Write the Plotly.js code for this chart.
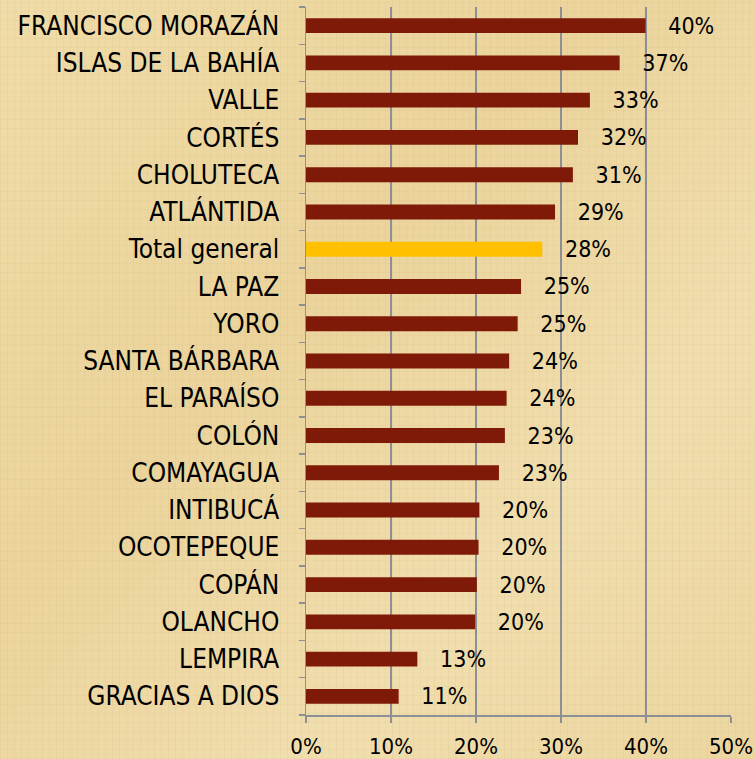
<!DOCTYPE html>
<html>
<head>
<meta charset="utf-8">
<script src="https://cdn.plot.ly/plotly-3.0.1.min.js"></script>
<style>
  html, body { margin: 0; padding: 0; width: 755px; height: 759px; overflow: hidden; }
  body {
    background-color: #EDD9A5;
    background-image:
      repeating-linear-gradient(90deg, rgba(190,160,100,0.10) 0px, rgba(190,160,100,0.10) 1px, rgba(0,0,0,0) 1px, rgba(0,0,0,0) 7px),
      repeating-linear-gradient(0deg, rgba(190,160,100,0.08) 0px, rgba(190,160,100,0.08) 1px, rgba(0,0,0,0) 1px, rgba(0,0,0,0) 9px),
      linear-gradient(135deg, #F0DCA8 0%, #EBD49C 40%, #F1DEAE 70%, #ECD6A0 100%);
  }
  #chart { width: 755px; height: 759px; }
</style>
</head>
<body>
<div id="chart"></div>
<script>
// Categories from bottom to top (Plotly draws first category at the bottom)
const categories = [
  "GRACIAS A DIOS", "LEMPIRA", "OLANCHO", "COPÁN", "OCOTEPEQUE", "INTIBUCÁ",
  "COMAYAGUA", "COLÓN", "EL PARAÍSO", "SANTA BÁRBARA", "YORO", "LA PAZ",
  "Total general", "ATLÁNTIDA", "CHOLUTECA", "CORTÉS", "VALLE",
  "ISLAS DE LA BAHÍA", "FRANCISCO MORAZÁN"
];
const values = [
  0.109, 0.131, 0.199, 0.201, 0.203, 0.204,
  0.227, 0.234, 0.236, 0.239, 0.249, 0.253,
  0.278, 0.293, 0.314, 0.320, 0.334,
  0.369, 0.3995
];
const highlightCategory = "Total general";
const barColor = "#7F1A08";
const highlightColor = "#FFC000";
const xTickValues = [0, 0.1, 0.2, 0.3, 0.4, 0.5];
const xTickLabels = ["0%", "10%", "20%", "30%", "40%", "50%"];

const colors = categories.map(c => c === highlightCategory ? highlightColor : barColor);
const font = "'DejaVu Sans Condensed', 'DejaVu Sans', sans-serif";

const trace = {
  type: "bar",
  orientation: "h",
  y: categories,
  x: values,
  marker: { color: colors, line: { width: 0 } },
  texttemplate: "\u00a0\u00a0\u00a0%{x:.0%}",
  textposition: "outside",
  constraintext: "none",
  cliponaxis: false,
  textfont: { family: font, size: 23, color: "#000000" },
  hoverinfo: "none"
};

const layout = {
  width: 755,
  height: 759,
  paper_bgcolor: "rgba(0,0,0,0)",
  plot_bgcolor: "rgba(0,0,0,0)",
  margin: { l: 306, r: 24, t: 7, b: 44, pad: 0 },
  bargap: 0.6,
  showlegend: false,
  font: { family: font, size: 23, color: "#000000" },
  xaxis: {
    range: [0, 0.5],
    tickvals: xTickValues,
    ticktext: xTickLabels,
    showgrid: true,
    gridcolor: "#8C8F96",
    gridwidth: 1.5,
    zeroline: false,
    showline: true,
    linecolor: "#8C8F96",
    linewidth: 1.5,
    ticks: "outside",
    ticklen: 6,
    tickwidth: 1.5,
    tickcolor: "#8C8F96",
    ticklabelstandoff: 5,
    tickfont: { family: font, size: 22, color: "#000000" },
    fixedrange: true
  },
  yaxis: {
    type: "category",
    categoryorder: "array",
    categoryarray: categories,
    showgrid: false,
    zeroline: false,
    showline: true,
    linecolor: "#8C8F96",
    linewidth: 1.5,
    ticks: "outside",
    tickson: "boundaries",
    ticklen: 6,
    tickwidth: 1.5,
    tickcolor: "#8C8F96",
    ticklabelstandoff: 20,
    tickfont: { family: font, size: 26, color: "#000000" },
    fixedrange: true
  }
};

Plotly.newPlot("chart", [trace], layout, { displayModeBar: false, staticPlot: true });
</script>
</body>
</html>
